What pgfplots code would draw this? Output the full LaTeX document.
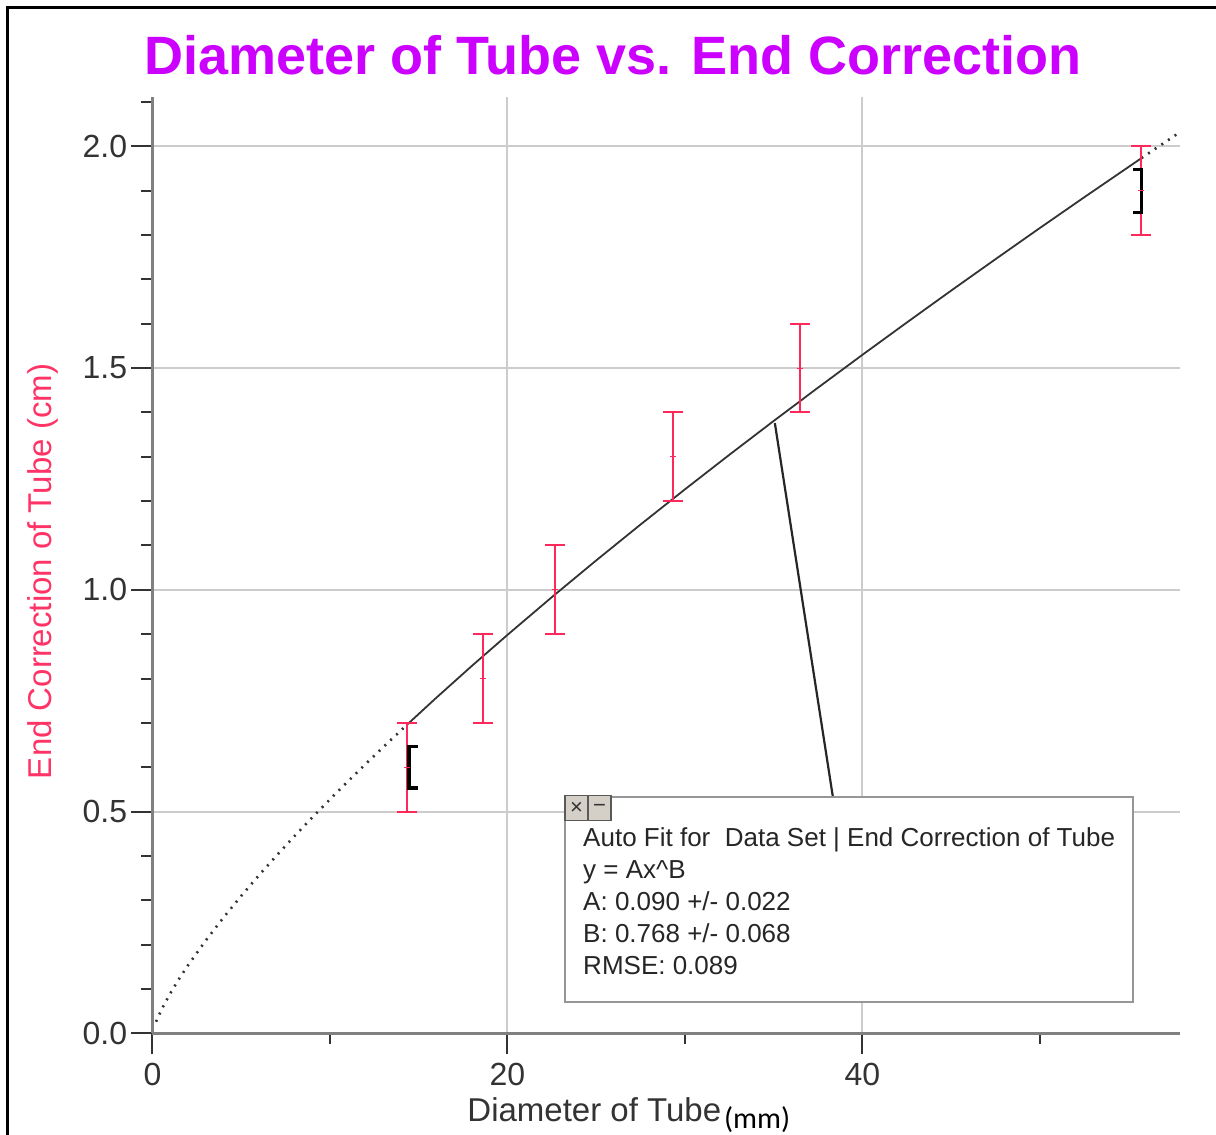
\documentclass[border=0pt]{standalone}
\usepackage{pgfplots}
\pgfplotsset{compat=1.18}
\usepackage{fontspec}
\setmainfont{Liberation Sans}
\newfontfamily\carlito{Carlito}
\definecolor{titlemag}{RGB}{204,0,255}
\definecolor{errred}{RGB}{255,40,90}
\definecolor{ylabred}{RGB}{255,51,102}
\definecolor{axgray}{RGB}{128,128,128}
\definecolor{gridgray}{RGB}{204,204,204}
\definecolor{tickdark}{RGB}{51,51,51}
\definecolor{boxgray}{RGB}{150,150,150}
\definecolor{btngray}{RGB}{212,208,200}

\begin{document}
\begin{tikzpicture}
\begin{axis}[
  at={(0,0)}, anchor=south west,
  scale only axis, width=513.75pt, height=468.3pt,
  xmin=0, xmax=57.9, ymin=0, ymax=2.112,
  axis x line=bottom, axis y line=left,
  axis line style={-, axgray, line width=1.5pt},
  xtick={0,20,40}, minor xtick={10,30,50},
  ytick={0,0.5,1,1.5,2},
  minor ytick={0.1,0.2,0.3,0.4,0.6,0.7,0.8,0.9,1.1,1.2,1.3,1.4,1.6,1.7,1.8,1.9,2.1},
  tick align=outside,
  major tick length=10.5pt, minor tick length=5.5pt,
  tick style={tickdark, line width=1pt},
  grid=major, major grid style={gridgray, line width=1pt},
  tick label style={font=\fontsize{16}{19}\selectfont, text=tickdark},
  yticklabel style={inner sep=2pt, /pgf/number format/.cd, fixed, fixed zerofill, precision=1, assume math mode=true},
  xticklabel style={inner sep=4pt, /pgf/number format/assume math mode=true},
  title={Diameter of Tube vs. End Correction},
  title style={at={(rel axis cs:0.4482,1.0114)}, anchor=base, font=\bfseries\fontsize{27}{32}\selectfont, text=titlemag},
  xlabel={Diameter of Tube\hspace{1.5pt}{\carlito\fontsize{15}{16}\selectfont\color{black}\raisebox{-3.5pt}{(mm)}}},
  xlabel style={at={(rel axis cs:0.3061,-0.0947)}, anchor=base west, inner sep=0pt, font=\fontsize{16.5}{19}\selectfont, text=tickdark},
  ylabel={End Correction of Tube (cm)},
  ylabel style={at={(rel axis cs:-0.0981,0.4931)}, anchor=base, rotate=0, font=\fontsize{16.5}{19}\selectfont, text=ylabred},
]
% fit curve, dotted extrapolation (y = 0.090 x^0.768)
\addplot[tickdark, line width=1.3pt, dash pattern=on 1pt off 3pt] coordinates {
(0.2,0.0261) (0.5,0.0529) (1,0.0900) (1.5,0.1229) (2,0.1533) (3,0.2092) (4,0.2610)
(5,0.3098) (6,0.3564) (7,0.4012) (8,0.4445) (9,0.4865) (10,0.5275) (11,0.5676)
(12,0.6068) (13,0.6453) (14.32,0.6950)};
% fit curve, solid over the data range
\addplot[tickdark, line width=0.9pt] coordinates {
(14.32,0.6950) (16,0.7569) (18,0.8286) (20,0.8983) (22.5,0.9834) (25,1.0662)
(27.5,1.1472) (30,1.2265) (32.5,1.3043) (35,1.3807) (37.5,1.4558) (40,1.5298)
(42.5,1.6026) (45,1.6746) (47.5,1.7455) (50,1.8158) (52.5,1.8851) (55.73,1.9735)};
\addplot[tickdark, line width=1.3pt, dash pattern=on 1pt off 3pt] coordinates {
(55.73,1.9735) (56.8,2.0025) (57.9,2.0320)};
% data with error bars
\addplot[errred, only marks, mark=-, mark size=1.5pt,
  error bars/.cd, y dir=both, y explicit, error mark=|,
  error bar style={errred, line width=1pt},
  error mark options={errred, mark size=5pt, line width=1pt}]
coordinates {
(14.32,0.6) +- (0,0.1)
(18.64,0.8) +- (0,0.1)
(22.68,1.0) +- (0,0.1)
(29.34,1.3) +- (0,0.1)
(36.48,1.5) +- (0,0.1)
(55.73,1.9) +- (0,0.1)};
% black brackets
\addplot[black, line width=1.7pt] coordinates {(14.95,0.647) (14.45,0.647) (14.45,0.553) (14.95,0.553)};
\addplot[black, line width=1.7pt] coordinates {(55.24,1.948) (55.73,1.948) (55.73,1.851) (55.24,1.851)};
% callout
\draw[black!85, line width=1.1pt] (axis cs:35.07,1.376) -- (axis cs:38.34,0.533);
\draw[boxgray, line width=1pt, fill=white] (axis cs:23.24,0.0713) rectangle (axis cs:55.24,0.533);
\draw[fill=btngray, draw=gray!70!black, line width=0.6pt] (axis cs:23.24,0.479) rectangle (axis cs:24.54,0.537);
\draw[fill=btngray, draw=gray!70!black, line width=0.6pt] (axis cs:24.54,0.479) rectangle (axis cs:25.84,0.537);
\node[font=\fontsize{11}{12}\selectfont, text=black!80] at (axis cs:23.89,0.508) {×};
\node[font=\fontsize{11}{12}\selectfont, text=black!80] at (axis cs:25.19,0.508) {−};
\begin{scope}[every node/.style={anchor=base west, font=\fontsize{13}{15}\selectfont, text=black!85, inner sep=0pt}]
\node at (axis cs:24.25,0.4207) {Auto Fit for\ \ Data Set | End Correction of Tube};
\node at (axis cs:24.25,0.3485) {y = Ax\textasciicircum B};
\node at (axis cs:24.25,0.2763) {A: 0.090 +/- 0.022};
\node at (axis cs:24.25,0.2041) {B: 0.768 +/- 0.068};
\node at (axis cs:24.25,0.1319) {RMSE: 0.089};
\end{scope}
\end{axis}
\draw[black, line width=1.3pt] (-72.5pt,-60pt) -- (-72.5pt,512.9pt) -- (540pt,512.9pt);
\pgfresetboundingbox
\path[use as bounding box] (-76.25pt,-50.85pt) rectangle (531.75pt,516.65pt);
\end{tikzpicture}
\end{document}
